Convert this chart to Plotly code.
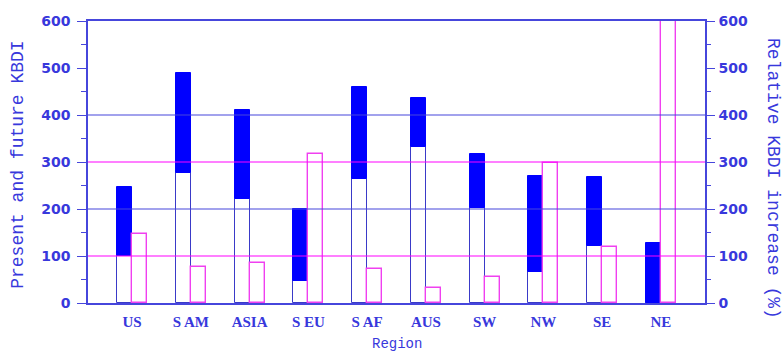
import plotly.graph_objects as go

# Regional KBDI: present-day value, future value, and relative increase
regions = ["US", "S AM", "ASIA", "S EU", "S AF", "AUS", "SW", "NW", "SE", "NE"]
present_kbdi = [100, 277, 221, 46, 264, 331, 203, 66, 121, 0]
future_kbdi = [247, 490, 411, 200, 460, 436, 318, 270, 268, 128]
relative_increase = [146, 77, 85, 318, 73, 32, 56, 298, 120, 600]

BLUE = "#0000ff"
AXIS_BLUE = "#4646dc"
TEXT_BLUE = "#3838dc"
MAGENTA = "#ff00ff"
BAR_W = 0.255

idx = list(range(len(regions)))
x_left = [i - BAR_W / 2 for i in idx]
x_right = [i + BAR_W / 2 for i in idx]
increment = [f - p for f, p in zip(future_kbdi, present_kbdi)]

fig = go.Figure()

# present KBDI: open bar from zero
fig.add_trace(go.Bar(
    x=x_left, y=present_kbdi, width=BAR_W,
    marker=dict(color="white", line=dict(color="#3a3ac8", width=1)),
    yaxis="y", showlegend=False,
))
# future KBDI: filled segment stacked above the present value
fig.add_trace(go.Bar(
    x=x_left, y=increment, base=present_kbdi, width=BAR_W,
    marker=dict(color=BLUE, line=dict(color=BLUE, width=1)),
    yaxis="y", showlegend=False,
))
# relative increase (%) on the right axis
fig.add_trace(go.Bar(
    x=x_right, y=relative_increase, width=BAR_W,
    marker=dict(color="white", line=dict(color="#f040f0", width=1.4)),
    yaxis="y2", showlegend=False,
))

# reference lines drawn over the bars
for v in [200, 400]:
    fig.add_shape(type="line", xref="paper", x0=0, x1=1, yref="y", y0=v, y1=v,
                  line=dict(color=AXIS_BLUE, width=1.2), layer="above")
for v in [100, 300]:
    fig.add_shape(type="line", xref="paper", x0=0, x1=1, yref="y", y0=v, y1=v,
                  line=dict(color=MAGENTA, width=1.2), layer="above")

tick_font = dict(family="DejaVu Sans", size=14, color=TEXT_BLUE, weight="bold")
title_font = dict(family="Liberation Mono", size=18, color=TEXT_BLUE)

fig.update_layout(
    width=783, height=356,
    margin=dict(l=88, r=78, t=21, b=52.5),
    paper_bgcolor="white", plot_bgcolor="white",
    barmode="overlay", bargap=0,
    xaxis=dict(
        range=[-0.75, 9.75], tickvals=idx, ticktext=regions,
        showgrid=False, zeroline=False, ticks="",
        showline=True, linecolor=AXIS_BLUE, linewidth=1.5, mirror=True,
        tickfont=dict(family="Liberation Serif", size=15, color=TEXT_BLUE, weight="bold"),
        ticklabelstandoff=4,
    ),
    yaxis=dict(
        range=[0, 600], tickvals=[0, 100, 200, 300, 400, 500, 600],
        showgrid=False, zeroline=False,
        ticks="outside", ticklen=9, tickcolor=AXIS_BLUE, tickwidth=1.2,
        minor=dict(dtick=50, ticks="outside", ticklen=5, tickcolor=AXIS_BLUE, tickwidth=1.2),
        showline=True, linecolor=AXIS_BLUE, linewidth=1.5,
        tickfont=tick_font, ticklabelstandoff=4,
    ),
    yaxis2=dict(
        range=[0, 600], tickvals=[0, 100, 200, 300, 400, 500, 600],
        overlaying="y", side="right",
        showgrid=False, zeroline=False,
        ticks="outside", ticklen=8, tickcolor=AXIS_BLUE, tickwidth=1.2,
        minor=dict(dtick=50, ticks="outside", ticklen=4, tickcolor=AXIS_BLUE, tickwidth=1.2),
        showline=True, linecolor=AXIS_BLUE, linewidth=1.5,
        tickfont=tick_font, ticklabelstandoff=1,
    ),
    annotations=[
        dict(text="Present and future KBDI", xref="paper", yref="paper",
             x=-0.1135, y=0.49, textangle=-90, showarrow=False, font=title_font,
             xanchor="center", yanchor="middle"),
        dict(text="Relative KBDI increase (%)", xref="paper", yref="paper",
             x=1.110, y=0.44, textangle=90, showarrow=False, font=title_font,
             xanchor="center", yanchor="middle"),
        dict(text="Region", xref="paper", yref="paper",
             x=(397 - 88) / 617, y=-0.147, showarrow=False,
             font=dict(family="Liberation Mono", size=14, color=TEXT_BLUE),
             xanchor="center", yanchor="middle"),
    ],
)

fig.write_html("out.html")
